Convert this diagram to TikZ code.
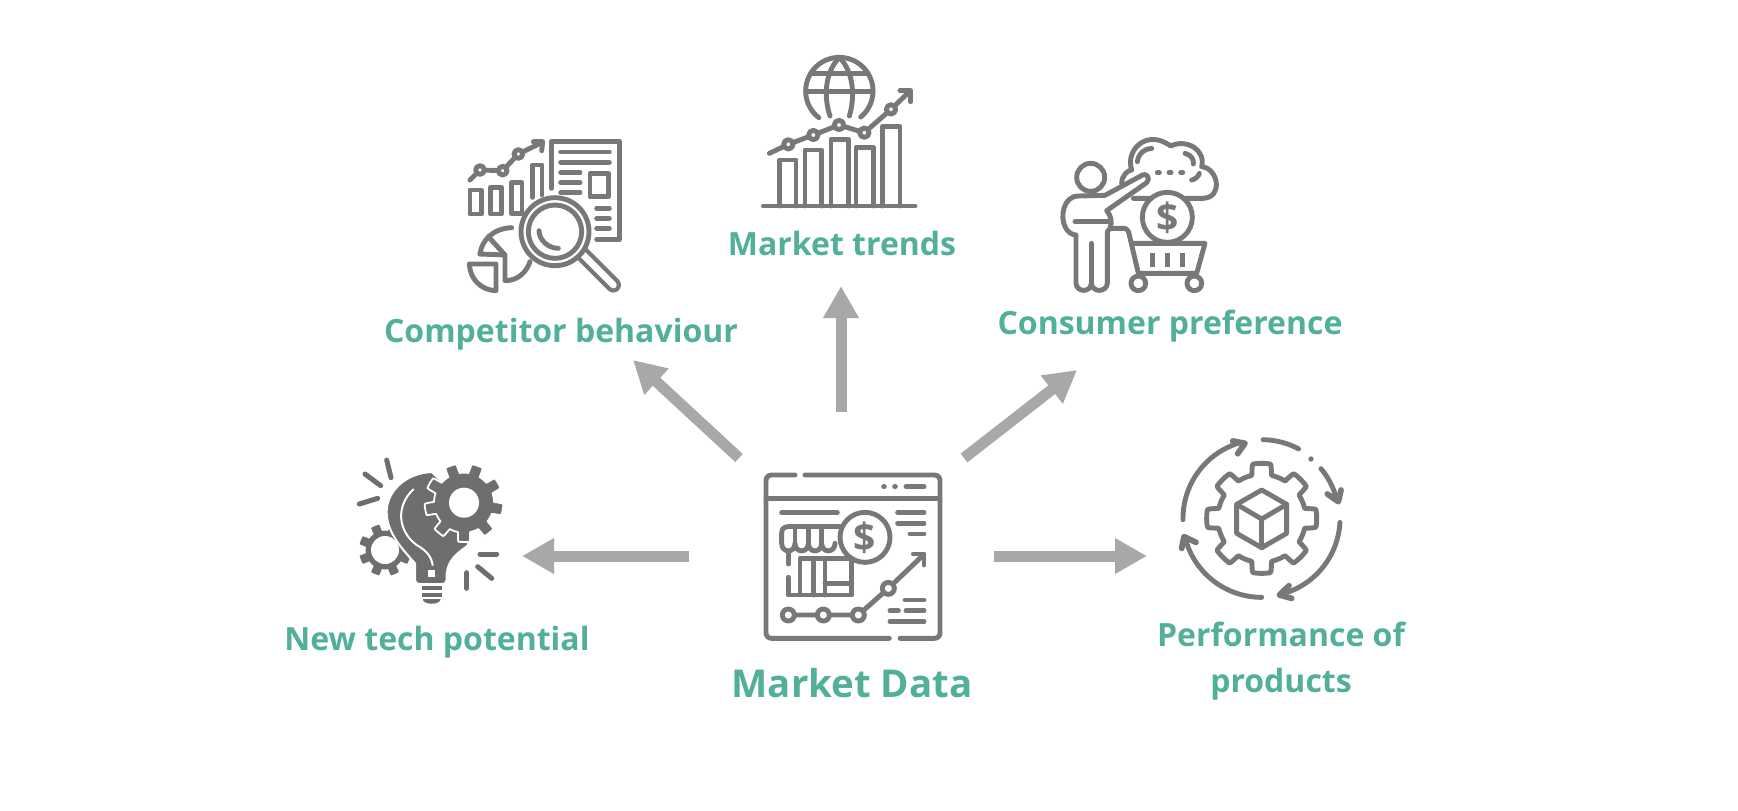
\documentclass[tikz,border=0pt]{standalone}
\usepackage{fontspec}
\setmainfont{Open Sans}
\usetikzlibrary{arrows.meta}
\definecolor{ic}{HTML}{787878}
\definecolor{icd}{HTML}{6E6E6E}
\definecolor{lab}{HTML}{52B09A}
\definecolor{arr}{HTML}{A8A8A8}
\tikzset{
 ln/.style={draw=ic,line width=2.45pt,line cap=round,line join=round},
 wf/.style={ln,fill=white},
 thk/.style={draw=icd,line width=2.5pt,line cap=round},
 lbl/.style={text=lab,font=\bfseries\fontsize{16}{18}\selectfont,align=center,inner sep=0pt},
 bigarrow/.style={draw=arr,line width=5.5pt,-{Triangle[length=16pt,width=16.8pt]}},
 dollar/.style={text=ic,font=\bfseries\fontsize{19.5}{20}\selectfont,inner sep=0pt},
 zoomed/.style={shift={#1},x=0.166667pt,y=-0.166667pt}
}
\newcommand\arcp[5]{plot[domain=#4:#5,samples=50,variable=\t] ({#1+#3*cos(\t)},{#2+#3*sin(\t)})}
\newcommand\gearp[6]{plot[domain=0:360,samples=361,variable=\t] ({#1+min(#4,max(#3,(#3+#4)/2+2.2*(#4-#3)*cos(#5*(\t-#6))))*cos(\t)},{#2+min(#4,max(#3,(#3+#4)/2+2.2*(#4-#3)*cos(#5*(\t-#6))))*sin(\t)})}
\begin{document}
\begin{tikzpicture}[x=0.5pt,y=-0.5pt]
\useasboundingbox[fill=white] (0,0) rectangle (1738,810);

% --- Competitor icon
\begin{scope}[zoomed={(440,120)}]
\draw[ln] (90,210) rectangle (124,282);
\draw[ln] (152,202) rectangle (184,282);
\draw[ln] (214,188) rectangle (246,280);
\draw[ln] (278,232)--(278,135)--(306,135)--(306,225);
\draw[ln] (90,180)--(120,150)--(188,152)--(235,102)--(305,68);
\draw[ln] (280,65)--(308,65)--(305,92);
\draw[wf] (120,150) circle (13);
\draw[wf] (188,152) circle (13);
\draw[wf] (235,102) circle (13);
\draw[ln] (335,205)--(335,65)--(538,65)--(538,358)--(470,358);
\foreach \yy in {96,127} \draw[ln] (362,\yy)--(508,\yy);
\foreach \yy in {158,188,218} \draw[ln] (362,\yy)--(420,\yy);
\draw[ln] (450,160) rectangle (505,230);
\foreach \yy in {265,295,325} \draw[ln] (470,\yy)--(508,\yy);
\draw[ln] (88,432)--(168,432)--(168,512) .. controls (120,510) and (90,475) .. (88,432);
\draw[ln] (120,402) .. controls (125,360) and (160,325) .. (215,323);
\draw[ln] (145,350)--(195,405)--(120,402);
\draw[ln] (195,405)--(195,482) .. controls (235,482) and (260,455) .. (270,425);
\draw[draw=ic,line cap=round,double=white,double distance=3.4pt,line width=2.1pt] (420,395)--(520,495);
\draw[wf] (345,335) circle (102);
\draw[ln] (345,335) circle (80);
\draw[ln] (297,332) .. controls (297,360) and (325,385) .. (355,385);
\end{scope}

% --- Market trends icon
\begin{scope}[zoomed={(750,40)}]
\draw[ln] \arcp{268}{153}{101}{127.5}{410.7};
\draw[ln] (240,228) .. controls (222,175) and (222,100) .. (268,52) .. controls (314,100) and (314,175) .. (298,228);
\draw[ln] (182,100)--(354,100);
\draw[ln] (167,155)--(369,155);
\draw[ln] (88,498)--(88,360)--(138,360)--(138,498);
\draw[ln] (165,498)--(165,330)--(215,330)--(215,498);
\draw[ln] (243,498)--(243,298)--(295,298)--(295,498);
\draw[ln] (318,498)--(318,322)--(370,322)--(370,498);
\draw[ln] (398,498)--(398,260)--(450,260)--(450,498);
\draw[ln] (40,498)--(495,498);
\draw[ln] (58,340)--(115,313)--(190,285)--(267,255)--(343,278)--(423,208)--(478,155);
\draw[ln] (450,152)--(482,152)--(482,185);
\foreach \xx/\yy in {115/313,190/285,267/255,343/278,423/208} \draw[wf] (\xx,\yy) circle (14);
\end{scope}

% --- Consumer icon
\begin{scope}[zoomed={(1050,120)}]
\draw[ln] (215,190) .. controls (215,165) and (235,150) .. (245,150) .. controls (225,90) and (290,25) .. (362,78) .. controls (410,55) and (468,90) .. (455,140) .. controls (505,145) and (520,232) .. (460,235) -- (250,235);
\draw[ln] (262,125) .. controls (265,100) and (285,85) .. (305,85);
\draw[ln] (405,100) .. controls (425,105) and (432,120) .. (430,132);
\draw[ln] (425,180) .. controls (435,178) and (445,170) .. (448,160);
\foreach \xx in {325,360,395} \draw[ln] (\xx-3,158)--(\xx+3,158);
\draw[ln] (122,172) circle (42);
\draw[wf] (172,490)--(172,335)--(180,325) .. controls (188,305) and (182,285) .. (170,272) -- (290,188) .. controls (303,175) and (290,155) .. (272,168) -- (165,226) -- (85,228) .. controls (40,228) and (30,290) .. (45,320) .. controls (52,335) and (65,345) .. (78,345) -- (78,490) .. controls (80,518) and (122,518) .. (124,490) .. controls (126,518) and (170,518) .. (172,490);
\draw[ln] (75,305)--(175,305);
\draw[ln] (124,370)--(124,490);
\draw[ln] (180,325)--(222,325) .. controls (232,325) and (236,335) .. (238,345) -- (265,460) -- (440,460) -- (465,370) -- (245,370);
\foreach \xx in {308,352,398} \draw[ln,line width=2.8pt,line cap=butt] (\xx,400)--(\xx,440);
\draw[ln] (265,490) circle (22);
\draw[ln] (433,490) circle (22);
\draw[wf] (352,292) circle (75);
\node[dollar] (d1) at (352,292) {\$};
\end{scope}

% --- New tech icon
\begin{scope}[zoomed={(340,450)}]
\foreach \a/\b/\c/\d in {140/30/153/83,75/72/122/107,58/162/113/145,420/312/470/312,413/350/455/385,380/368/380/415}
  \draw[thk] (\a,\b)--(\c,\d);
\fill[icd] \gearp{135}{300}{58}{78}{8}{22.5} -- cycle;
\fill[white] (135,300) circle (42);
\draw[fill=icd,draw=white,line width=1pt] (275,66) .. controls (190,70) and (140,130) .. (140,185) .. controls (140,250) and (190,300) .. (225,340) -- (225,385) .. controls (225,398) and (230,402) .. (240,402) -- (305,402) .. controls (315,402) and (320,398) .. (320,385) -- (320,370) .. controls (325,330) and (350,310) .. (382,288) -- (395,250) -- (300,90) -- cycle;
\draw[white,line width=1pt,line cap=round] (220,118) .. controls (165,170) and (175,245) .. (230,285) .. controls (265,305) and (275,325) .. (278,345);
\fill[white] (265,360) rectangle (285,380);
\draw[fill=icd,draw=white,line width=0.9pt] \gearp{372}{158}{90}{118}{9}{90} -- cycle;
\fill[white] (372,158) circle (45);
\draw[icd,line width=2.4pt] (245,414)--(305,414);
\draw[icd,line width=2.4pt] (245,435)--(305,435);
\fill[icd] (248,447) -- (302,447) .. controls (300,466) and (250,466) .. (248,447);
\end{scope}

% --- Market data icon
\begin{scope}[zoomed={(750,460)}]
\draw[ln] (135,45)--(65,45) .. controls (55,45) and (48,52) .. (48,62) -- (48,518) .. controls (48,528) and (55,535) .. (65,535) -- (418,535);
\draw[ln] (450,535)--(553,535) .. controls (563,535) and (570,528) .. (570,518) -- (570,62) .. controls (570,52) and (563,45) .. (553,45) -- (165,45);
\draw[ln] (48,115)--(570,115);
\foreach \xx in {402,435} \draw[ln] (\xx-1,80)--(\xx+1,80);
\draw[ln] (468,80)--(522,80);
\draw[ln] (95,158)--(262,158);
\draw[ln] (443,158)--(522,158);
\draw[ln] (443,190)--(522,190);
\draw[ln] (480,222)--(522,222);
\draw[ln] (115,200)--(270,200);
\draw[ln] (115,200) .. controls (100,200) and (95,208) .. (95,220) -- (95,250) .. controls (95,280) and (135,280) .. (135,250) .. controls (135,280) and (175,280) .. (175,250) .. controls (175,280) and (215,280) .. (215,250) .. controls (215,280) and (255,280) .. (255,250);
\foreach \xx in {135,175,215} \draw[ln] (\xx,205)--(\xx,250);
\draw[ln] (115,280)--(115,312);
\draw[ln] (115,352)--(115,405)--(305,405)--(305,300);
\draw[ln] (150,405)--(150,295)--(305,295);
\draw[ln] (190,295)--(190,405);
\draw[ln] (225,295)--(225,405);
\draw[ln] (225,370)--(305,370);
\draw[wf] (345,232) circle (75);
\node[dollar] (d2) at (345,232) {\$};
\draw[ln] (115,465)--(325,465)--(415,385)--(520,285);
\draw[ln] (490,282)--(522,282)--(522,315);
\foreach \xx/\yy in {115/465,220/465,325/465,415/385} \draw[wf] (\xx,\yy) circle (18);
\draw[ln] (465,420)--(522,420);
\draw[ln] (420,452)--(445,452);
\draw[ln] (468,452)--(522,452);
\draw[ln] (420,485)--(522,485);
\end{scope}

% --- Performance icon
\begin{scope}[zoomed={(1170,425)}]
\draw[ln] \gearp{275}{280}{132}{165}{8}{0} -- cycle;
\draw[ln] (275,195)--(350,238)--(350,325)--(275,368)--(200,325)--(200,238)--cycle;
\draw[ln] (200,238)--(275,282)--(350,238);
\draw[ln] (275,282)--(275,368);
\draw[ln] \arcp{275}{280}{236}{179}{255};
\draw[ln] \arcp{275}{280}{236}{271}{298};
\fill[ic] (423,102) circle (8);
\draw[ln] \arcp{275}{280}{232}{320}{346};
\draw[ln] \arcp{275}{280}{235}{3}{74};
\draw[ln] \arcp{275}{280}{237}{90}{165};
\draw[ln,line width=2.9pt] (188,48)--(225,55)--(203,86);
\draw[ln,line width=2.9pt] (472,207)--(505,230)--(513,195);
\draw[ln,line width=2.9pt] (357,482)--(328,510)--(365,520);
\draw[ln,line width=2.9pt] (35,370)--(42,335)--(78,352);
\end{scope}

% --- Labels
\node[lbl] (comp) at (561,334) {Competitor behaviour};
\node[lbl] (trend) at (842,243) {Market trends};
\node[lbl] (cons) at (1170,326) {Consumer preference};
\node[lbl] (tech) at (437,642) {New tech potential};
\node[lbl,font=\bfseries\fontsize{19.2}{22}\selectfont] (data) at (852,683) {Market Data};
\node[lbl,font=\bfseries\fontsize{16}{23}\selectfont] (perf) at (1281,661) {Performance of\\products};

% --- Connectors
\coordinate (a1s) at (739,458); \coordinate (a1e) at (633,360);
\coordinate (a2s) at (841,412); \coordinate (a2e) at (841,286);
\coordinate (a3s) at (964,458); \coordinate (a3e) at (1077,370);
\coordinate (a4s) at (689,556); \coordinate (a4e) at (522,556);
\coordinate (a5s) at (994,556); \coordinate (a5e) at (1147,556);
\draw[bigarrow] (a1s)--(a1e);
\draw[bigarrow] (a2s)--(a2e);
\draw[bigarrow] (a3s)--(a3e);
\draw[bigarrow] (a4s)--(a4e);
\draw[bigarrow] (a5s)--(a5e);
\end{tikzpicture}
\end{document}
